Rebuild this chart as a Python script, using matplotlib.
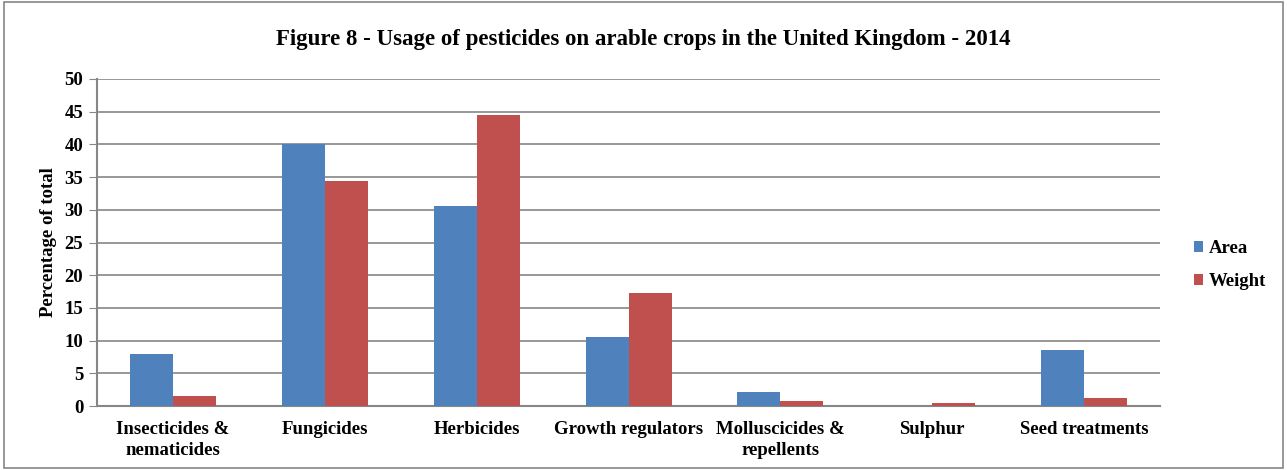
import matplotlib.pyplot as plt
import numpy as np
from matplotlib.patches import Rectangle

categories = ["Insecticides &\nnematicides", "Fungicides", "Herbicides",
              "Growth regulators", "Molluscicides &\nrepellents", "Sulphur",
              "Seed treatments"]
area = [8.0, 40.0, 30.6, 10.6, 2.1, 0.0, 8.6]
weight = [1.5, 34.4, 44.5, 17.3, 0.8, 0.4, 1.3]

plt.rcParams['font.family'] = ['Liberation Serif', 'DejaVu Serif']
plt.rcParams['font.weight'] = 'bold'

fig = plt.figure(figsize=(12.87, 4.70), dpi=100)
ax = fig.add_axes([0.0754, 0.136, 0.826, 0.696])

x = np.arange(len(categories))
w = 0.283
ax.bar(x - w / 2, area, w, color='#4f81bd', label='Area', zorder=3)
ax.bar(x + w / 2, weight, w, color='#c0504d', label='Weight', zorder=3)

ax.set_xlim(-0.5, len(categories) - 0.5)
ax.set_ylim(0, 50)
ax.set_yticks(range(0, 51, 5))
ax.yaxis.grid(True, color='#868686', linewidth=1.2, zorder=0)
ax.set_xticks(x)
ax.set_xticklabels(categories, fontsize=13.5, fontweight='bold', linespacing=1.3)
ax.tick_params(axis='x', length=0, pad=11)
ax.tick_params(axis='y', length=6, color='#868686', labelsize=13.5, pad=4)
for lab in ax.get_yticklabels():
    lab.set_fontweight('bold')
for s in ['top', 'right']:
    ax.spines[s].set_visible(False)
for s in ['left', 'bottom']:
    ax.spines[s].set_color('#868686')
    ax.spines[s].set_linewidth(1.5)

ax.set_ylabel('Percentage of total', fontsize=13.5, fontweight='bold', labelpad=5)
fig.text(0.5, 0.915, 'Figure 8 - Usage of pesticides on arable crops in the United Kingdom - 2014',
         ha='center', va='center', fontsize=16.5, fontweight='bold')

ax.legend(loc='center left', bbox_to_anchor=(1.016, 0.43), frameon=False,
          handlelength=0.5, handleheight=0.5, handletextpad=0.3,
          labelspacing=0.85, prop={'weight': 'bold', 'size': 13.5})

fig.patches.append(Rectangle((0.003, 0.004), 0.994, 0.992, transform=fig.transFigure,
                             fill=False, edgecolor='#868686', linewidth=1.2))

fig.savefig('out.png', dpi=100)
